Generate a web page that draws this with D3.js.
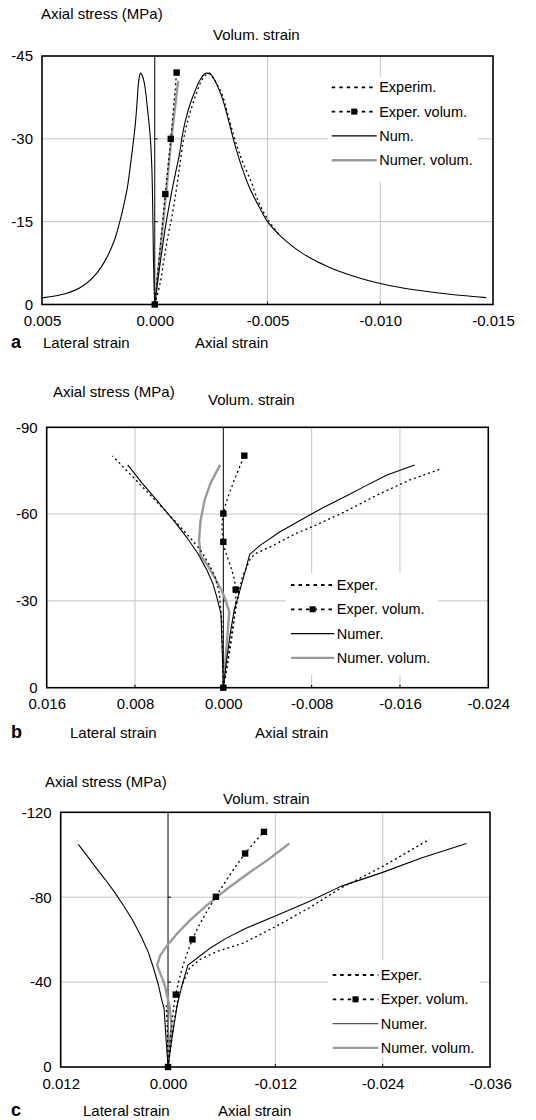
<!DOCTYPE html>
<html>
<head>
<meta charset="utf-8">
<script src="https://cdn.jsdelivr.net/npm/d3@7"></script>
<style>
  body { margin: 0; background: #fff; }
  svg { display: block; font-family: "Liberation Sans", Arial, sans-serif; }
</style>
</head>
<body>
<svg id="chart" width="536" height="1120"></svg>
<script>
// ---- data: [strain, axial stress (MPa)] ----
// panel a
const aXTicks = [0.005, 0, -0.005, -0.010, -0.015];
const aYTicks = [0, -15, -30, -45];
const aLegend = ['Experim.', 'Exper. volum.', 'Num.', 'Numer. volum.'];
const aExperAxial = [[0, 0], [-0.00024, -3.9], [-0.00043, -8.7], [-0.00061, -12.9], [-0.00076, -15.9], [-0.00093, -20.1],
  [-0.0011, -24.9], [-0.00127, -29.7], [-0.00143, -32.7], [-0.00164, -35.7], [-0.00186, -38.4], [-0.00207, -40.5],
  [-0.00229, -41.7], [-0.00243, -41.9], [-0.00261, -40.9], [-0.00297, -38.2], [-0.0033, -33.5], [-0.0036, -29.3],
  [-0.0039, -25.8], [-0.0043, -22.0], [-0.0046, -18.6], [-0.005, -15.5], [-0.0055, -12.7]];
const aExperLateral = [];
const aNumAxial = [[0, 0], [-0.00024, -7.5], [-0.0005, -14.7], [-0.00071, -19.5], [-0.00093, -24.0], [-0.0011, -27.3],
  [-0.00121, -30.3], [-0.00136, -33.3], [-0.00157, -36.3], [-0.00179, -38.7], [-0.002, -40.6], [-0.00219, -41.7],
  [-0.00233, -41.9], [-0.0025, -41.6], [-0.00271, -40.2], [-0.00293, -38.1], [-0.00314, -35.4], [-0.00338, -31.6],
  [-0.00362, -28.0], [-0.00391, -24.3], [-0.0042, -21.2], [-0.00464, -17.6], [-0.005, -15.0], [-0.0055, -12.7],
  [-0.006, -10.9], [-0.0065, -9.4], [-0.007, -8.2], [-0.0075, -7.2], [-0.008, -6.3], [-0.009, -4.9],
  [-0.010, -3.8], [-0.011, -3.0], [-0.012, -2.4], [-0.013, -1.9], [-0.014, -1.5], [-0.0147, -1.25]];
const aNumLateral = [[0, 0], [0.00003, -3.3], [0.00006, -8.7], [0.00009, -17.7], [0.00013, -24.9], [0.00021, -30.9],
  [0.00033, -35.7], [0.00043, -39.3], [0.00053, -41.2], [0.00063, -41.9], [0.00071, -40.5], [0.00079, -36.3],
  [0.00086, -32.7], [0.00096, -29.1], [0.00107, -25.5], [0.00121, -21.3], [0.00139, -17.7], [0.00157, -14.7],
  [0.00181, -11.4], [0.00214, -8.4], [0.00257, -5.7], [0.00321, -3.3], [0.00393, -2.0], [0.005, -1.2]];
const aExpVolum = [[0, 0], [-0.00047, -20.0], [-0.00071, -30.0], [-0.00097, -42.0]];
const aNumVolum = [[0, 0], [-0.0005, -20.0], [-0.00074, -30.0], [-0.00104, -40.5]];

// panel b
const bXTicks = [0.016, 0.008, 0, -0.008, -0.016, -0.024];
const bYTicks = [0, -30, -60, -90];
const bLegend = ['Exper.', 'Exper. volum.', 'Numer.', 'Numer. volum.'];
const bExperAxial = [[0, 0], [-0.00038, -9.3], [-0.00083, -20.8], [-0.00127, -30.1], [-0.00171, -38.2], [-0.00245, -44.6],
  [-0.00289, -46.3], [-0.00421, -48.6], [-0.00657, -53.3], [-0.00805, -55.6], [-0.011, -60.8], [-0.01394, -66.6],
  [-0.01689, -71.8], [-0.01983, -75.8]];
const bExperLateral = [[0, 0], [0.00006, -11.6], [0.00015, -23.2], [0.00035, -32.4], [0.00073, -38.2], [0.00132, -42.8],
  [0.00206, -47.5], [0.00294, -51.5], [0.0044, -57.7], [0.00617, -64.8], [0.00793, -71.8], [0.01004, -80.1]];
const bNumAxial = [[0, 0], [-0.00029, -9.3], [-0.00062, -18.5], [-0.00097, -26.6], [-0.00141, -32.4], [-0.00192, -39.4],
  [-0.00239, -46.1], [-0.00333, -49.2], [-0.0051, -53.8], [-0.00799, -60.0], [-0.00893, -62.0], [-0.011, -66.0],
  [-0.01276, -69.5], [-0.01482, -73.5], [-0.01733, -77.0]];
const bNumLateral = [[0, 0], [0.00012, -15.1], [0.00021, -25.5], [0.00059, -31.3], [0.00094, -35.9], [0.00147, -40.5],
  [0.00229, -46.3], [0.00323, -51.5], [0.0044, -57.3], [0.00617, -65.4], [0.00734, -70.6], [0.00866, -77.0]];
const bExpVolum = [[0, 0], [-0.00112, -33.9], [0, -50.4], [0, -60.2], [-0.0019, -80.2]];
const bNumVolum = [[0, 0], [-0.00018, -9.3], [-0.00038, -18.5], [-0.00053, -26.1], [-0.00023, -30.1], [0.00015, -33.6],
  [0.00065, -37.1], [0.00132, -41.7], [0.00206, -45.7], [0.0022, -51.0], [0.00206, -57.9], [0.0017, -64.8],
  [0.00117, -70.6], [0.00029, -77.0]];

// panel c
const cXTicks = [0.012, 0, -0.012, -0.024, -0.036];
const cYTicks = [0, -40, -80, -120];
const cLegend = ['Exper.', 'Exper. volum.', 'Numer.', 'Numer. volum.'];
const cExperAxial = [[0, 0], [-0.0004, -12], [-0.0007, -22], [-0.0011, -32], [-0.0017, -40], [-0.0024, -46.5],
  [-0.0035, -50.5], [-0.0055, -54.5], [-0.0085, -58.5], [-0.012, -66.1], [-0.01571, -74.8], [-0.01932, -84.3],
  [-0.024, -94.5], [-0.02925, -107.3]];
const cExperLateral = [[0, 0], [0.00005, -12], [0.00012, -22], [0.0002, -29]];
const cNumAxial = [[0, 0], [-0.00047, -14.7], [-0.00102, -28.9], [-0.00156, -38.4], [-0.00222, -48.0], [-0.0032, -51.1],
  [-0.00465, -55.8], [-0.00647, -60.6], [-0.00865, -65.3], [-0.012, -71.1], [-0.01571, -77.9], [-0.01932, -85.1],
  [-0.024, -91.7], [-0.02832, -98.5], [-0.03337, -105.3]];
const cNumLateral = [[0, 0], [0.0002, -12], [0.00045, -28], [0.00064, -30.5], [0.0011, -39], [0.00165, -47],
  [0.0022, -54], [0.003, -61.5], [0.004, -69.5], [0.005, -76.2], [0.006, -82.5], [0.007, -88.2], [0.008, -93.6],
  [0.009, -99.2], [0.01003, -104.9]];
const cExpVolum = [[0, 0], [-0.00087, -34.1], [-0.00273, -60.1], [-0.00535, -80.2], [-0.00862, -100.6], [-0.01073, -110.8]];
const cNumVolum = [[0, 0], [-0.0001, -8], [-0.0004, -19], [-0.0002, -28], [0.0004, -39], [0.00122, -48],
  [0.00087, -52.6], [0.00007, -57.4], [-0.00102, -62.9], [-0.00247, -69.2], [-0.00429, -76.0], [-0.00647, -83.5],
  [-0.00902, -91.4], [-0.0112, -97.7], [-0.01356, -105.3]];

const svg = d3.select('#chart');
const FS = 15;
const LFS = 14.5;
const GRID = '#c4c4c4';
const VOL = '#9a9a9a';

function drawPanel(p) {
  const x = d3.scaleLinear().domain([p.xTicks[0], p.xTicks[p.xTicks.length - 1]]).range([p.box.left, p.box.right]);
  const y = d3.scaleLinear().domain([0, p.yTicks[p.yTicks.length - 1]]).range([p.box.bottom, p.box.top]);
  const g = svg.append('g');

  // grid
  g.selectAll('.vg').data(p.xTicks.slice(1, -1).filter(t => t !== 0)).join('line')
    .attr('x1', d => x(d)).attr('x2', d => x(d)).attr('y1', p.box.top).attr('y2', p.box.bottom)
    .attr('stroke', GRID).attr('stroke-width', 1);
  g.selectAll('.hg').data(p.yTicks.slice(1, -1)).join('line')
    .attr('x1', p.box.left).attr('x2', p.box.right).attr('y1', d => y(d)).attr('y2', d => y(d))
    .attr('stroke', GRID).attr('stroke-width', 1);

  // legend background hides grid
  const lg = p.legend;
  g.append('rect').attr('x', lg.box[0]).attr('y', lg.box[1]).attr('width', lg.box[2]).attr('height', lg.box[3]).attr('fill', '#fff');

  // zero line (y axis) with small ticks
  g.append('line').attr('x1', x(0)).attr('x2', x(0)).attr('y1', p.box.top).attr('y2', p.box.bottom)
    .attr('stroke', '#000').attr('stroke-width', 1);
  g.selectAll('.zt').data(p.yTicks.slice(1, -1)).join('line')
    .attr('x1', x(0)).attr('x2', x(0) + 3).attr('y1', d => y(d)).attr('y2', d => y(d)).attr('stroke', '#000');
  g.selectAll('.bt').data(p.xTicks.slice(1, -1)).join('line')
    .attr('x1', d => x(d)).attr('x2', d => x(d)).attr('y1', p.box.bottom - 3).attr('y2', p.box.bottom).attr('stroke', '#000');

  // frame
  g.append('rect').attr('x', p.box.left).attr('y', p.box.top)
    .attr('width', p.box.right - p.box.left).attr('height', p.box.bottom - p.box.top)
    .attr('fill', 'none').attr('stroke', '#000').attr('stroke-width', 1.6);

  // axes labels
  const xa = g.append('g').attr('transform', `translate(0,${p.box.bottom})`)
    .call(d3.axisBottom(x).tickValues(p.xTicks).tickSize(0).tickPadding(11).tickFormat(d => d.toFixed(3)));
  const ya = g.append('g').attr('transform', `translate(${p.box.left},0)`)
    .call(d3.axisLeft(y).tickValues(p.yTicks).tickSize(0).tickPadding(9).tickFormat(d => String(d)));
  [xa, ya].forEach(a => {
    a.select('.domain').remove();
    a.selectAll('text').attr('font-size', FS).attr('fill', '#000').attr('font-family', 'Liberation Sans, Arial, sans-serif');
  });

  const line = (curve) => d3.line().x(d => x(d[0])).y(d => y(d[1])).curve(curve);
  const dotted = { stroke: '#000', width: 1.3, dash: '2,3' };
  const draw = (data, curve, st) => {
    if (!data.length) return;
    g.append('path').datum(data).attr('d', line(curve))
      .attr('fill', 'none').attr('stroke', st.stroke).attr('stroke-width', st.width)
      .attr('stroke-dasharray', st.dash || null).attr('stroke-linejoin', 'round');
  };
  const c = p.curve;
  draw(p.numVolum, c, { stroke: VOL, width: 2.4 });
  draw(p.experAxial, c, dotted);
  draw(p.experLateral, c, dotted);
  draw(p.numAxial, c, { stroke: '#000', width: 1.1 });
  draw(p.numLateral, c, { stroke: '#000', width: 1.1 });
  draw(p.expVolum, d3.curveCatmullRom, dotted);
  g.selectAll('.sq').data(p.expVolum).join('rect')
    .attr('x', d => x(d[0]) - 3.2).attr('y', d => y(d[1]) - 3.2).attr('width', 6.4).attr('height', 6.4).attr('fill', '#000');

  // legend
  const rows = g.append('g');
  p.legendLabels.forEach((label, i) => {
    const ry = lg.y0 + i * 24.3;
    const l = rows.append('line').attr('x1', lg.x1).attr('x2', lg.x2).attr('y1', ry).attr('y2', ry);
    if (i === 0 || i === 1) l.attr('stroke', '#000').attr('stroke-width', 1.8).attr('stroke-dasharray', '3.5,4');
    if (i === 2) l.attr('stroke', p.numLegendColor).attr('stroke-width', 1.2);
    if (i === 3) l.attr('stroke', VOL).attr('stroke-width', 2.4);
    if (i === 1) rows.append('rect').attr('x', (lg.x1 + lg.x2) / 2 - 3).attr('y', ry - 3).attr('width', 6).attr('height', 6).attr('fill', '#000');
    rows.append('text').attr('x', lg.x2 + 2.5).attr('y', ry).attr('dy', '0.35em').attr('font-size', LFS).text(label);
  });

  // titles
  const t = p.text;
  svg.append('text').attr('x', t.stress[0]).attr('y', t.stress[1]).attr('font-size', FS).text('Axial stress (MPa)');
  svg.append('text').attr('x', t.volum[0]).attr('y', t.volum[1]).attr('font-size', FS).text('Volum. strain');
  svg.append('text').attr('x', 11).attr('y', t.base).attr('font-size', 18).attr('font-weight', 'bold').text(p.tag);
  svg.append('text').attr('x', t.lateral).attr('y', t.base).attr('font-size', FS).text('Lateral strain');
  svg.append('text').attr('x', t.axial).attr('y', t.base).attr('font-size', FS).text('Axial strain');
}

drawPanel({
  tag: 'a', xTicks: aXTicks, yTicks: aYTicks, legendLabels: aLegend,
  box: { left: 42, right: 493, top: 56, bottom: 304.5 },
  experAxial: aExperAxial, experLateral: aExperLateral, numAxial: aNumAxial, numLateral: aNumLateral,
  expVolum: aExpVolum, numVolum: aNumVolum, curve: d3.curveCatmullRom.alpha(0.5), numLegendColor: '#000',
  legend: { box: [328, 77, 150, 105], x1: 331.7, x2: 376.7, y0: 87.3 },
  text: { stress: [41, 19], volum: [213, 39.5], base: 348, lateral: 43, axial: 195 }
});
drawPanel({
  tag: 'b', xTicks: bXTicks, yTicks: bYTicks, legendLabels: bLegend,
  box: { left: 46.7, right: 488.3, top: 427.3, bottom: 687.7 },
  experAxial: bExperAxial, experLateral: bExperLateral, numAxial: bNumAxial, numLateral: bNumLateral,
  expVolum: bExpVolum, numVolum: bNumVolum, curve: d3.curveLinear, numLegendColor: '#000',
  legend: { box: [286, 573, 152, 102], x1: 291, x2: 334.3, y0: 585 },
  text: { stress: [53, 396.5], volum: [208, 404.5], base: 738, lateral: 70, axial: 255 }
});
drawPanel({
  tag: 'c', xTicks: cXTicks, yTicks: cYTicks, legendLabels: cLegend,
  box: { left: 60.7, right: 490, top: 812.3, bottom: 1067 },
  experAxial: cExperAxial, experLateral: cExperLateral, numAxial: cNumAxial, numLateral: cNumLateral,
  expVolum: cExpVolum, numVolum: cNumVolum, curve: d3.curveLinear, numLegendColor: '#555',
  legend: { box: [328, 960, 152, 97], x1: 332.7, x2: 378.3, y0: 975 },
  text: { stress: [45, 786.5], volum: [223, 803.5], base: 1115.5, lateral: 83, axial: 218 }
});
</script>
</body>
</html>
